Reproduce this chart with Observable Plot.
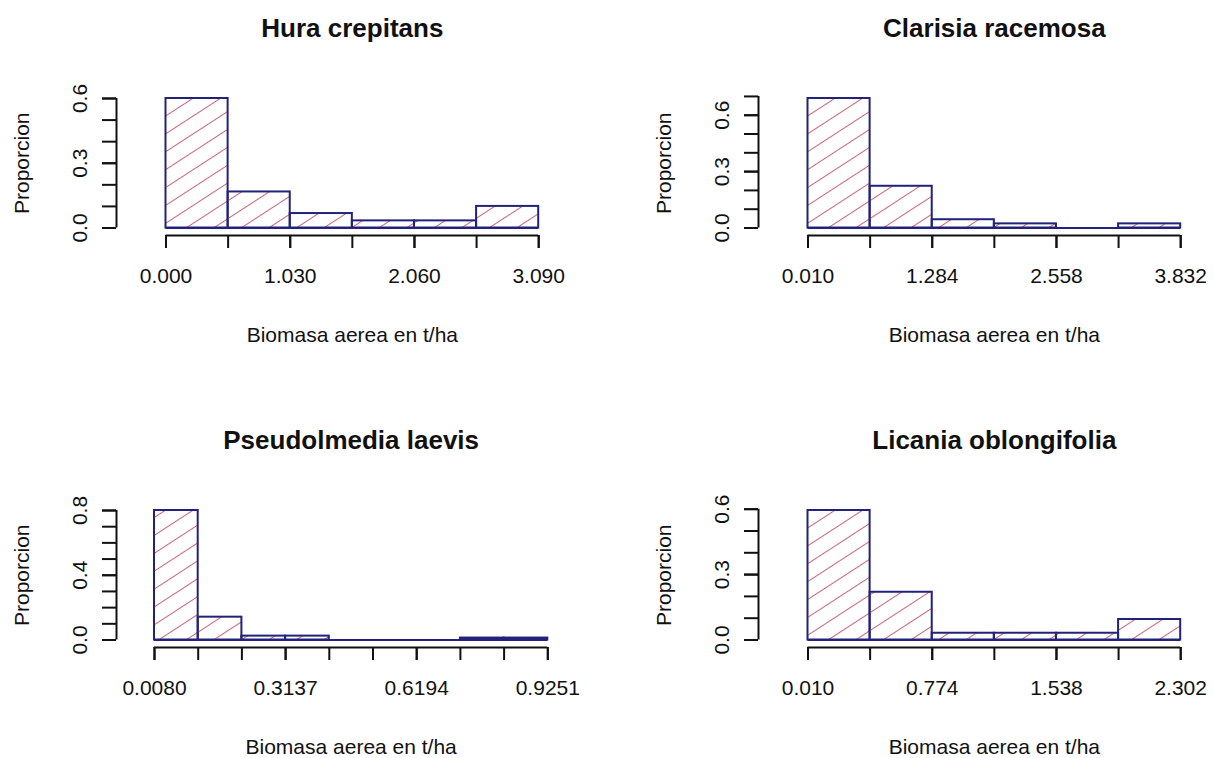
<!DOCTYPE html>
<html>
<head>
<meta charset="utf-8">
<script src="https://cdn.jsdelivr.net/npm/d3@7"></script>
<script src="https://cdn.jsdelivr.net/npm/@observablehq/plot@0.6"></script>
<style>
  body { margin: 0; background: #fff; }
  #chart { position: relative; width: 1214px; height: 758px; overflow: hidden; background: #fff;
           font-family: "Liberation Sans", Arial, sans-serif; }
  .panel { position: absolute; }
</style>
</head>
<body>
<svg width="0" height="0" style="position:absolute">
  <defs>
    <pattern id="hatch" patternUnits="userSpaceOnUse" width="15" height="15" patternTransform="rotate(-33)">
      <line x1="0" y1="7.5" x2="15" y2="7.5" stroke="#cc6479" stroke-width="1"></line>
    </pattern>
  </defs>
</svg>
<div id="chart"></div>
<script>
// ---- Data ----
const titles = ["Hura crepitans", "Clarisia racemosa", "Pseudolmedia laevis", "Licania oblongifolia"];
const xLabel = "Biomasa aerea en t/ha";
const yLabel = "Proporcion";

// Hura crepitans
const huraBreaks = [0.000, 0.515, 1.030, 1.545, 2.060, 2.575, 3.090];
const huraProps = [0.600, 0.167, 0.067, 0.033, 0.033, 0.100];
const huraXLabelValues = [0.000, 1.030, 2.060, 3.090];
const huraXLabels = ["0.000", "1.030", "2.060", "3.090"];
const huraYTicks = [0.0, 0.1, 0.2, 0.3, 0.4, 0.5, 0.6];
const huraYLabelValues = [0.0, 0.3, 0.6];
const huraYLabels = ["0.0", "0.3", "0.6"];

// Clarisia racemosa
const clarisiaBreaks = [0.010, 0.647, 1.284, 1.921, 2.558, 3.195, 3.832];
const clarisiaProps = [0.689, 0.222, 0.044, 0.022, 0.000, 0.022];
const clarisiaXLabelValues = [0.010, 1.284, 2.558, 3.832];
const clarisiaXLabels = ["0.010", "1.284", "2.558", "3.832"];
const clarisiaYTicks = [0.0, 0.1, 0.2, 0.3, 0.4, 0.5, 0.6, 0.7];
const clarisiaYLabelValues = [0.0, 0.3, 0.6];
const clarisiaYLabels = ["0.0", "0.3", "0.6"];

// Pseudolmedia laevis
const pseudoBreaks = [0.0080, 0.1099, 0.2118, 0.3137, 0.4156, 0.5175, 0.6194, 0.7213, 0.8232, 0.9251];
const pseudoProps = [0.800, 0.141, 0.024, 0.024, 0.000, 0.000, 0.000, 0.012, 0.012];
const pseudoXLabelValues = [0.0080, 0.3137, 0.6194, 0.9251];
const pseudoXLabels = ["0.0080", "0.3137", "0.6194", "0.9251"];
const pseudoYTicks = [0.0, 0.1, 0.2, 0.3, 0.4, 0.5, 0.6, 0.7, 0.8];
const pseudoYLabelValues = [0.0, 0.4, 0.8];
const pseudoYLabels = ["0.0", "0.4", "0.8"];

// Licania oblongifolia
const licaniaBreaks = [0.010, 0.392, 0.774, 1.156, 1.538, 1.920, 2.302];
const licaniaProps = [0.594, 0.219, 0.031, 0.031, 0.031, 0.094];
const licaniaXLabelValues = [0.010, 0.774, 1.538, 2.302];
const licaniaXLabels = ["0.010", "0.774", "1.538", "2.302"];
const licaniaYTicks = [0.0, 0.1, 0.2, 0.3, 0.4, 0.5, 0.6];
const licaniaYLabelValues = [0.0, 0.3, 0.6];
const licaniaYLabels = ["0.0", "0.3", "0.6"];

// ---- Layout / style ----
const W = 572, H = 346;
const BORDER = "#22227a";
const INK = "#111";
const panels = [
  {title: titles[0], breaks: huraBreaks, props: huraProps, xv: huraXLabelValues, xl: huraXLabels,
   yt: huraYTicks, yv: huraYLabelValues, yl: huraYLabels, left: 0, top: 0, x0: 165.5, x1: 538.2},
  {title: titles[1], breaks: clarisiaBreaks, props: clarisiaProps, xv: clarisiaXLabelValues, xl: clarisiaXLabels,
   yt: clarisiaYTicks, yv: clarisiaYLabelValues, yl: clarisiaYLabels, left: 642, top: 0, x0: 165.5, x1: 538.2},
  {title: titles[2], breaks: pseudoBreaks, props: pseudoProps, xv: pseudoXLabelValues, xl: pseudoXLabels,
   yt: pseudoYTicks, yv: pseudoYLabelValues, yl: pseudoYLabels, left: 0, top: 412, x0: 154, x1: 547.3},
  {title: titles[3], breaks: licaniaBreaks, props: licaniaProps, xv: licaniaXLabelValues, xl: licaniaXLabels,
   yt: licaniaYTicks, yv: licaniaYLabelValues, yl: licaniaYLabels, left: 642, top: 412, x0: 165.5, x1: 538.2}
];

const yTopPx = 98, yBasePx = 227.5, yAxisPx = 116, yLabelPx = 28;

const chart = document.getElementById("chart");
for (const p of panels) {
  const bins = p.props.map((v, i) => ({x1: p.breaks[i], x2: p.breaks[i + 1], p: v}));
  const xmin = p.breaks[0], xmax = p.breaks[p.breaks.length - 1];
  const ydx = yAxisPx - p.x0;
  const svg = Plot.plot({
    width: W, height: H,
    marginLeft: p.x0, marginRight: W - p.x1,
    marginTop: yTopPx, marginBottom: H - yBasePx,
    x: {domain: [xmin, xmax], label: null},
    y: {domain: [0, d3.max(p.props)], label: null},
    style: {fontFamily: '"Liberation Sans", Arial, sans-serif', fontSize: "21px", color: INK, background: "#fff", overflow: "visible"},
    marks: [
      Plot.rect(bins, {x1: "x1", x2: "x2", y1: 0, y2: "p", fill: "url(#hatch)", stroke: BORDER, strokeWidth: 2}),
      Plot.ruleY([0], {x1: xmin, x2: xmax, stroke: BORDER, strokeWidth: 2}),
      // x axis
      Plot.ruleY([0], {x1: xmin, x2: xmax, dy: 7.5, stroke: INK, strokeWidth: 2}),
      Plot.axisX(p.breaks, {anchor: "bottom", tickSize: 13, dy: 7.5, tickFormat: () => "", strokeWidth: 2, stroke: INK, label: null}),
      Plot.axisX(p.xv, {anchor: "bottom", tickSize: 13, tickPadding: 20, dy: 7.5, strokeWidth: 2, stroke: INK,
        tickFormat: d => p.xl[p.xv.indexOf(d)], label: null}),
      // y axis
      Plot.ruleX([xmin], {y1: p.yt[0], y2: p.yt[p.yt.length - 1], dx: ydx, stroke: INK, strokeWidth: 2}),
      Plot.axisY(p.yt, {anchor: "left", tickSize: 14, dx: ydx, tickFormat: () => "", strokeWidth: 2, stroke: INK, label: null}),
      Plot.axisY(p.yv, {anchor: "left", tickSize: 14, tickPadding: 16, tickRotate: -90, dx: ydx, strokeWidth: 2, stroke: INK,
        tickFormat: d => p.yl[p.yv.indexOf(d)], label: null}),
      // labels
      Plot.text([p.title], {text: d => d, frameAnchor: "top", dy: 36 - yTopPx, lineAnchor: "bottom",
        fontSize: 26, fontWeight: "bold", fill: INK}),
      Plot.text([xLabel], {text: d => d, frameAnchor: "bottom", dy: 114, lineAnchor: "bottom", fill: INK}),
      Plot.text([yLabel], {text: d => d, frameAnchor: "left", dx: yLabelPx - p.x0, rotate: -90,
        textAnchor: "middle", lineAnchor: "bottom", fill: INK})
    ]
  });
  svg.classList.add("panel");
  svg.style.left = p.left + "px";
  svg.style.top = p.top + "px";
  chart.appendChild(svg);
}
</script>
</body>
</html>
